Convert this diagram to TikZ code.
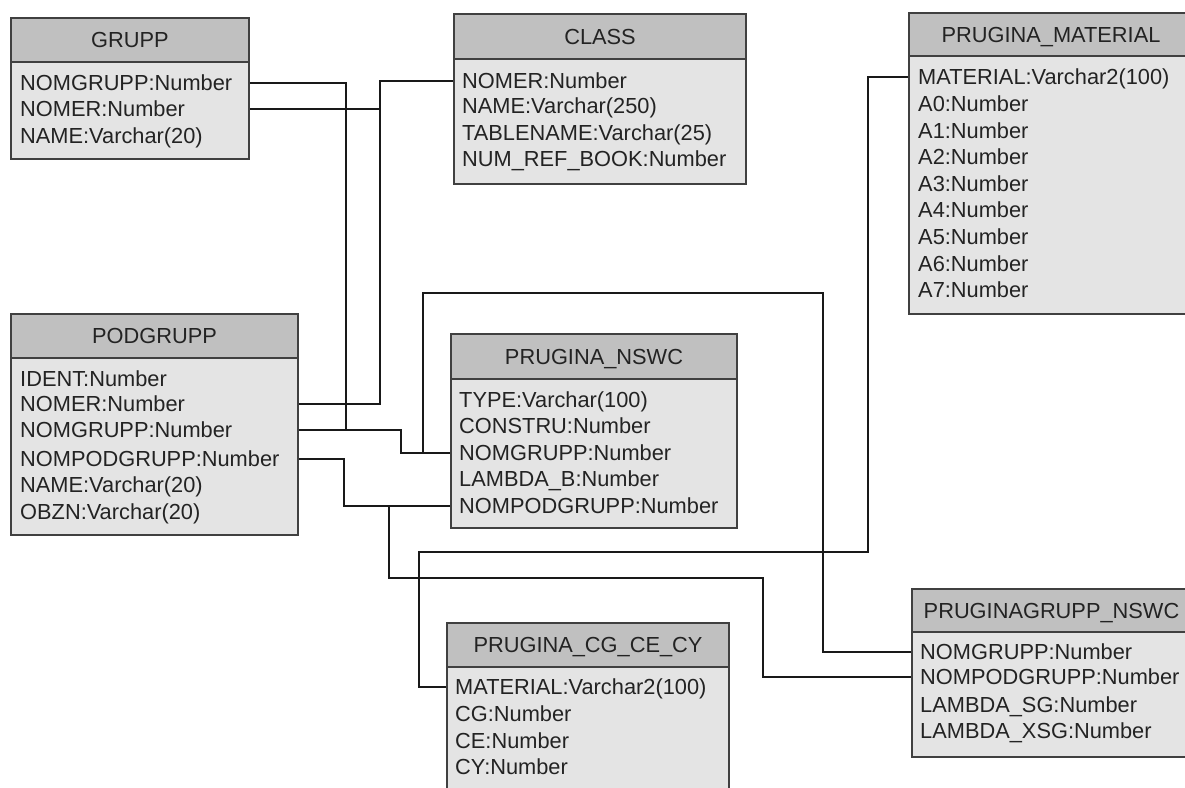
\documentclass[tikz,border=0pt]{standalone}
\usepackage{fontspec}
\setmainfont{Liberation Sans}
\definecolor{hdrc}{RGB}{192,192,192}
\definecolor{bodyc}{RGB}{228,228,228}
\definecolor{bordc}{RGB}{64,64,64}
\definecolor{txtc}{RGB}{35,35,35}
\definecolor{linec}{RGB}{25,25,25}
\newcommand{\tabfont}{\fontsize{21.8}{26}\selectfont}
\newcommand{\ertable}[7]{%
  \node[bodybox, minimum width={#4-#2}, minimum height={#6-#5}] (#1-b) at (#2,#5) {};
  \node[hdrbox, minimum width={#4-#2}, minimum height={#5-#3}] (#1) at (#2,#3) {#7};
}
\begin{document}
\begin{tikzpicture}[x=1pt,y=-1pt,
  hdrbox/.style={draw=bordc, fill=hdrc, line width=2pt, inner sep=0pt, anchor=north west,
    text=txtc, font=\tabfont, text height=15.6pt, text depth=0pt},
  bodybox/.style={draw=bordc, fill=bodyc, line width=2pt, inner sep=0pt, anchor=north west},
  row/.style={anchor=west, inner sep=0pt, text=txtc, font=\tabfont, text height=15.6pt, text depth=0pt},
  conn/.style={draw=linec, line width=1.8pt}]
\clip (0,0) rectangle (1185,787);
\fill[white] (0,0) rectangle (1185,787);

% tables
\ertable{grupp}{10}{17}{248}{61}{158}{GRUPP}
\node[row] (grupp-1) at (20,83) {NOMGRUPP:Number};
\node[row] (grupp-2) at (20,109) {NOMER:Number};
\node[row] (grupp-3) at (20,136) {NAME:Varchar(20)};

\ertable{class}{453}{13}{745}{58}{183}{CLASS}
\node[row] (class-1) at (462,81) {NOMER:Number};
\node[row] (class-2) at (462,106) {NAME:Varchar(250)};
\node[row] (class-3) at (462,133) {TABLENAME:Varchar(25)};
\node[row] (class-4) at (462,159) {NUM\_REF\_BOOK:Number};

\ertable{mat}{908}{12}{1192}{55}{313}{PRUGINA\_MATERIAL}
\node[row] (mat-1) at (918,77) {MATERIAL:Varchar2(100)};
\node[row] (mat-2) at (918,103.6) {A0:Number};
\node[row] (mat-3) at (918,130.2) {A1:Number};
\node[row] (mat-4) at (918,156.8) {A2:Number};
\node[row] (mat-5) at (918,183.4) {A3:Number};
\node[row] (mat-6) at (918,210) {A4:Number};
\node[row] (mat-7) at (918,236.6) {A5:Number};
\node[row] (mat-8) at (918,263.2) {A6:Number};
\node[row] (mat-9) at (918,289.8) {A7:Number};

\ertable{pod}{10}{313}{297}{357}{534}{PODGRUPP}
\node[row] (pod-1) at (20,379) {IDENT:Number};
\node[row] (pod-2) at (20,404) {NOMER:Number};
\node[row] (pod-3) at (20,430) {NOMGRUPP:Number};
\node[row] (pod-4) at (20,459) {NOMPODGRUPP:Number};
\node[row] (pod-5) at (20,485) {NAME:Varchar(20)};
\node[row] (pod-6) at (20,512) {OBZN:Varchar(20)};

\ertable{nswc}{450}{333}{736}{378}{527}{PRUGINA\_NSWC}
\node[row] (nswc-1) at (459,400) {TYPE:Varchar(100)};
\node[row] (nswc-2) at (459,426) {CONSTRU:Number};
\node[row] (nswc-3) at (459,453) {NOMGRUPP:Number};
\node[row] (nswc-4) at (459,479) {LAMBDA\_B:Number};
\node[row] (nswc-5) at (459,506) {NOMPODGRUPP:Number};

\ertable{cg}{446}{622}{728}{666}{800}{PRUGINA\_CG\_CE\_CY}
\node[row] (cg-1) at (455,687) {MATERIAL:Varchar2(100)};
\node[row] (cg-2) at (455,714) {CG:Number};
\node[row] (cg-3) at (455,741) {CE:Number};
\node[row] (cg-4) at (455,767) {CY:Number};

\ertable{pg}{911}{588}{1190}{631}{756}{PRUGINAGRUPP\_NSWC}
\node[row] (pg-1) at (920,652) {NOMGRUPP:Number};
\node[row] (pg-2) at (920,677) {NOMPODGRUPP:Number};
\node[row] (pg-3) at (920,705) {LAMBDA\_SG:Number};
\node[row] (pg-4) at (920,731) {LAMBDA\_XSG:Number};

% routing coordinates
\coordinate (x346) at (346,0);
\coordinate (x401) at (401,0);
\coordinate (x423) at (423,0);
\coordinate (x823) at (823,0);
\coordinate (x380) at (380,0);
\coordinate (x344) at (344,0);
\coordinate (x389) at (389,0);
\coordinate (x763) at (763,0);
\coordinate (x868) at (868,0);
\coordinate (x419) at (419,0);
\coordinate (y293) at (0,293);
\coordinate (y552) at (0,552);
\coordinate (y578) at (0,578);

% connectors
\draw[conn] (grupp-b.east |- grupp-1) -| (x346 |- pod-3);
\draw[conn] (pod-b.east |- pod-3) -| (x401 |- nswc-3) -- (nswc-b.west |- nswc-3);
\draw[conn] (x423 |- nswc-3) |- (x823 |- y293) |- (pg-b.west |- pg-1);
\draw[conn] (class-b.west |- class-1) -| (x380 |- pod-2) -- (pod-b.east |- pod-2);
\draw[conn] (grupp-b.east |- grupp-2) -- (x380 |- grupp-2);
\draw[conn] (pod-b.east |- pod-4) -| (x344 |- nswc-5) -- (nswc-b.west |- nswc-5);
\draw[conn] (x389 |- nswc-5) |- (x763 |- y578) |- (pg-b.west |- pg-2);
\draw[conn] (mat-b.west |- mat-1) -| (x868 |- y552) -| (x419 |- cg-1) -- (cg-b.west |- cg-1);
\end{tikzpicture}
\end{document}
